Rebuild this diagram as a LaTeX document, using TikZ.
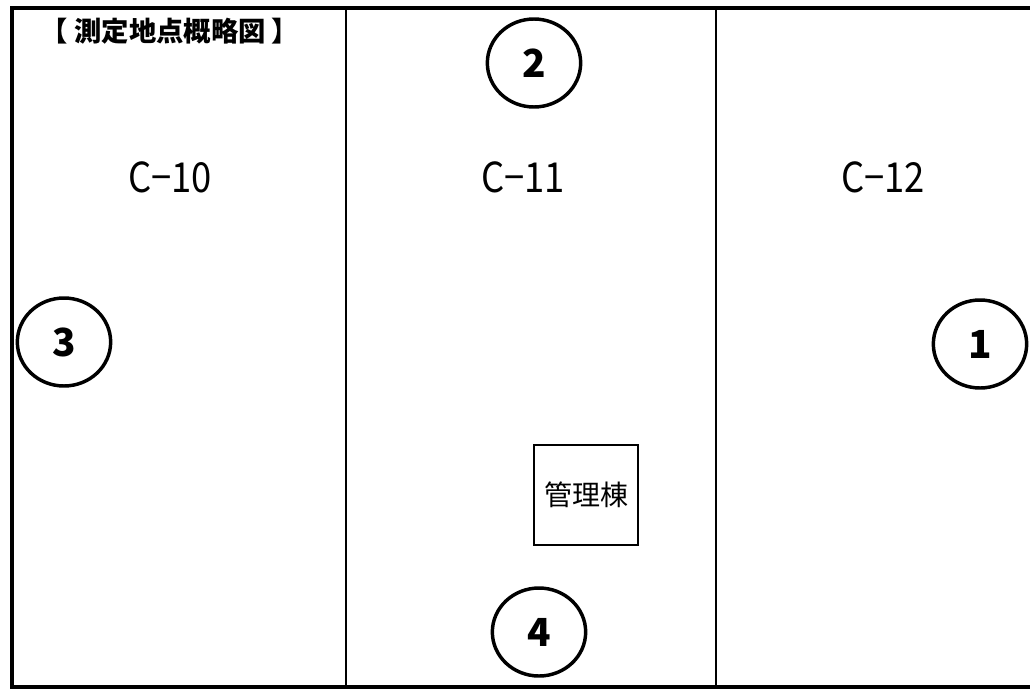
\documentclass[tikz,border=0pt]{standalone}
\usepackage{fontspec}
\newfontfamily\jp{Noto Sans CJK JP}
\begin{document}
\begin{tikzpicture}[x=0.75pt,y=-0.75pt,
  frame/.style={line width=3pt,line cap=rect},
  divider/.style={line width=2pt},
  spot/.style={draw,line width=2.6pt,ellipse,minimum width=70pt,minimum height=66pt,inner sep=0pt,font=\jp\bfseries\fontsize{29}{29}\selectfont},
  zone/.style={font=\jp\fontsize{31}{31}\selectfont},
  bldg/.style={draw,line width=1.1pt,minimum width=78pt,minimum height=75pt,inner sep=0pt,font=\jp\fontsize{21}{21}\selectfont}]
\usetikzlibrary{shapes.geometric}
\useasboundingbox (0,0) rectangle (1030,689);
\clip (0,0) rectangle (1030,689);
\coordinate (tr) at (1040,8);
\coordinate (tl) at (12,8);
\coordinate (bl) at (12,687);
\coordinate (br) at (1040,687);
\draw[frame] (tr) -- (tl) -- (bl) -- (br);
\coordinate (d1t) at (346,8);
\coordinate (d1b) at (346,687);
\coordinate (d2t) at (716,8);
\coordinate (d2b) at (716,687);
\draw[divider] (d1t) -- (d1b);
\draw[divider] (d2t) -- (d2b);
\node[font=\jp\bfseries\fontsize{20.5}{20.5}\selectfont] (title) at (170,31) {【 測定地点概略図 】};
\node[zone] (c10) at (170,177) {\scalebox{0.88}[1]{C−10}};
\node[zone] (c11) at (523,177) {\scalebox{0.88}[1]{C−11}};
\node[zone] (c12) at (883,177) {\scalebox{0.88}[1]{C−12}};
\node[spot] (p2) at (534,63) {2};
\node[spot] (p3) at (64,342) {3};
\node[spot] (p1) at (980,344) {1};
\node[spot] (p4) at (539,632) {4};
\node[bldg] (kanri) at (586,495) {管理棟};
\end{tikzpicture}
\end{document}
